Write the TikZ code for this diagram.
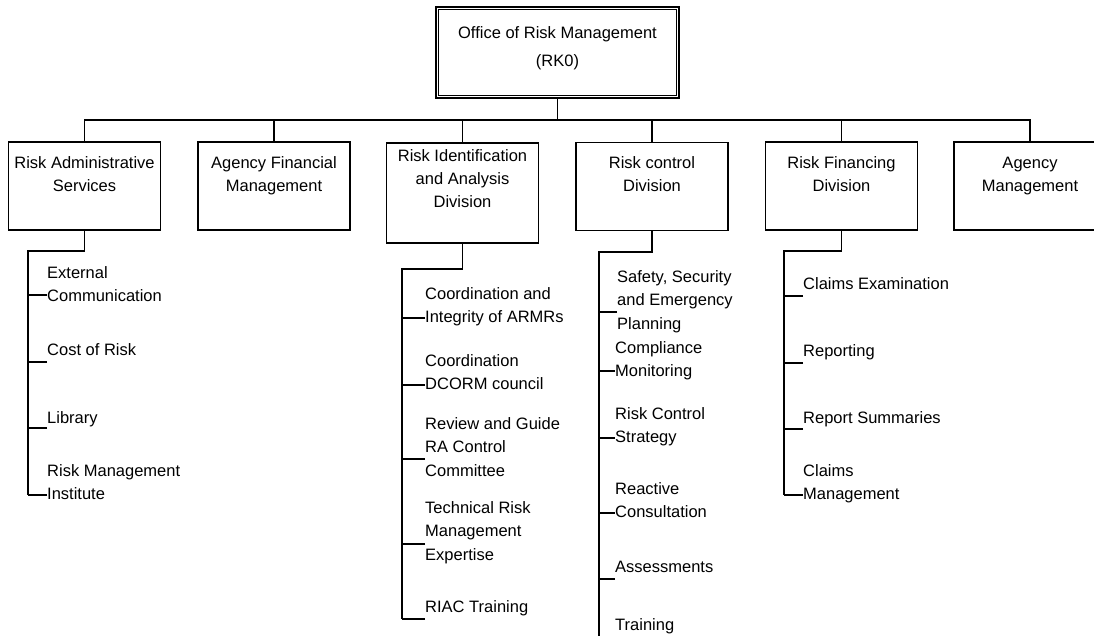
\documentclass[tikz,border=0pt]{standalone}
\usepackage{fontspec}
\setmainfont{Liberation Sans}
\newcommand{\mylines}[2][l]{\begin{tabular}[t]{@{}#1@{}}#2\end{tabular}}
\newcommand{\leafitem}[6]{%
  \node[leaf] (#1) at (#3,#4) {\mylines{#6}};
  \coordinate (#1k) at (#3,#5);
  \draw[tick] (#1k) -- (#1k -| #2);
}
\tikzset{
  orgbox/.style={draw, line width=1.1pt, minimum width=152pt, minimum height=88pt, inner sep=0pt},
  lbl/.style={font=\fontsize{16.5}{23}\selectfont, inner sep=0pt, anchor=base},
  leaf/.style={font=\fontsize{16.5}{23.5}\selectfont, inner sep=0pt, anchor=base west},
  spine/.style={line width=1.7pt},
  tick/.style={line width=1.1pt},
  busline/.style={line width=1.3pt},
}
\begin{document}
\begin{tikzpicture}[x=1pt,y=-1pt]
\useasboundingbox (0,0) rectangle (1094,635);
\clip (0,0) rectangle (1094,635);

% top box
\node[draw, line width=1.8pt, minimum width=243pt, minimum height=91pt, inner sep=0pt] (top) at (557.5,52.5) {};
\draw[line width=0.9pt] ([shift={(3.5,3.5)}]top.north west) rectangle ([shift={(-3.5,-3.5)}]top.south east);
\node[font=\fontsize{16.5}{28}\selectfont, anchor=base, inner sep=0pt] (topt) at (557.5,38) {\mylines[c]{Office of Risk Management\\(RK0)}};

% division boxes
\node[orgbox] (b1) at (84.5,186) {};
\node[orgbox] (b2) at (274,186) {};
\node[orgbox, minimum height=100pt] (b3) at (462.5,193) {};
\node[orgbox] (b4) at (652,186.5) {};
\node[orgbox] (b5) at (841.5,186) {};
\node[orgbox] (b6) at (1030,186) {};

\node[lbl] (b1t) at (84.5,168) {\mylines[c]{Risk Administrative\\Services}};
\node[lbl] (b2t) at (274,168) {\mylines[c]{Agency Financial\\Management}};
\node[lbl] (b3t) at (462.5,161) {\mylines[c]{Risk Identification\\and Analysis\\Division}};
\node[lbl] (b4t) at (652,168) {\mylines[c]{Risk control\\Division}};
\node[lbl] (b5t) at (841.5,168) {\mylines[c]{Risk Financing\\Division}};
\node[lbl] (b6t) at (1030,168) {\mylines[c]{Agency\\Management}};

% bus
\coordinate (bus) at (557.5,120);
\draw[busline] (top.south) -- (bus);
\foreach \b in {b1,b2,b3,b4,b5,b6} \draw[busline] (bus) -| (\b.north);

% column 1
\coordinate (s1) at (28,251); \coordinate (e1) at (28,495);
\draw[spine] (b1.south) |- (s1) -- (e1);
\leafitem{l11}{s1}{47}{278}{295}{External\\Communication}
\leafitem{l12}{s1}{47}{355}{362}{Cost of Risk}
\leafitem{l13}{s1}{47}{423}{428}{Library}
\leafitem{l14}{s1}{47}{476}{495}{Risk Management\\Institute}

% column 3
\coordinate (s3) at (402,269); \coordinate (e3) at (402,619);
\draw[spine] (b3.south) |- (s3) -- (e3);
\leafitem{l31}{s3}{425}{299}{318}{Coordination and\\Integrity of ARMRs}
\leafitem{l32}{s3}{425}{366}{385}{Coordination\\DCORM council}
\leafitem{l33}{s3}{425}{429}{459}{Review and Guide\\RA Control\\Committee}
\leafitem{l34}{s3}{425}{513}{544}{Technical Risk\\Management\\Expertise}
\leafitem{l35}{s3}{425}{612}{619}{RIAC Training}

% column 4
\coordinate (s4) at (599,252); \coordinate (e4) at (599,640);
\draw[spine] (b4.south) |- (s4) -- (e4);
\leafitem{l41}{s4}{617}{282}{312}{Safety, Security\\and Emergency\\Planning}
\leafitem{l42}{s4}{615}{353}{371}{Compliance\\Monitoring}
\leafitem{l43}{s4}{615}{419}{438}{Risk Control\\Strategy}
\leafitem{l44}{s4}{615}{494}{513}{Reactive\\Consultation}
\leafitem{l45}{s4}{615}{572}{579}{Assessments}
\node[leaf] (l46) at (615,630) {Training};

% column 5
\coordinate (s5) at (784,251); \coordinate (e5) at (784,495);
\draw[spine] (b5.south) |- (s5) -- (e5);
\leafitem{l51}{s5}{803}{289}{296}{Claims Examination}
\leafitem{l52}{s5}{803}{356}{363}{Reporting}
\leafitem{l53}{s5}{803}{423}{429}{Report Summaries}
\leafitem{l54}{s5}{803}{476}{495}{Claims\\Management}
\end{tikzpicture}
\end{document}
